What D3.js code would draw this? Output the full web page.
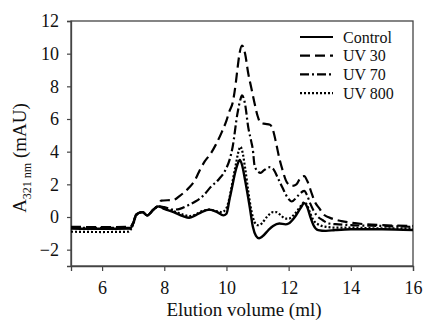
<!DOCTYPE html>
<html><head><meta charset="utf-8">
<script src="https://cdn.jsdelivr.net/npm/d3@7"></script>
<style>body{margin:0;background:#fff}svg{display:block}</style>
</head><body>
<svg id="c" width="424" height="322"></svg>
<script>
const xTicks = [6, 8, 10, 12, 14, 16];
const yTicks = [-2, 0, 2, 4, 6, 8, 10, 12];
const seriesNames = ["Control", "UV 30", "UV 70", "UV 800"];

const control = [[5,-0.7],[6.0,-0.72],[6.9,-0.7],[7.0,-0.4],[7.1,0.15],[7.3,0.3],[7.45,0.1],[7.65,0.45],[7.8,0.65],[8.0,0.5],[8.3,0.3],[8.6,0.05],[8.8,-0.05],[9.0,0.1],[9.2,0.3],[9.45,0.45],[9.7,0.3],[9.9,0.1],[10.0,0.2],[10.1,1.1],[10.2,2.0],[10.27,2.65],[10.35,3.2],[10.43,3.5],[10.5,3.2],[10.6,2.25],[10.75,0.6],[10.85,-0.6],[10.95,-1.15],[11.05,-1.3],[11.15,-1.2],[11.35,-0.8],[11.5,-0.55],[11.7,-0.4],[11.9,-0.45],[12.0,-0.4],[12.2,0.0],[12.4,0.6],[12.5,0.85],[12.6,0.6],[12.7,0.0],[12.8,-0.5],[12.95,-0.8],[13.2,-0.85],[13.5,-0.8],[14,-0.75],[15,-0.75],[16,-0.8]];
const uv30 = [[5,-0.6],[6.0,-0.62],[6.9,-0.6],[7.0,-0.35],[7.1,0.15],[7.3,0.3],[7.45,0.1],[7.65,0.45],[7.8,0.7],[7.9,1.0],[8.3,1.05],[8.5,1.3],[8.8,1.8],[9.0,2.3],[9.15,2.9],[9.3,3.4],[9.5,3.9],[9.65,4.4],[9.85,5.2],[10.0,5.9],[10.1,6.5],[10.2,7.0],[10.3,8.2],[10.35,9.0],[10.42,10.0],[10.5,10.5],[10.6,10.0],[10.7,8.8],[10.8,7.9],[10.9,7.0],[11.0,6.2],[11.1,5.75],[11.25,5.7],[11.4,5.65],[11.5,5.3],[11.6,4.5],[11.7,3.6],[11.8,2.9],[11.95,2.1],[12.1,1.9],[12.25,2.0],[12.4,2.45],[12.5,2.5],[12.6,2.2],[12.75,1.4],[12.85,0.9],[13.0,0.5],[13.1,0.2],[13.4,-0.1],[13.7,-0.25],[14,-0.35],[14.5,-0.45],[15,-0.5],[16,-0.55]];
const uv70 = [[5,-0.65],[6.0,-0.67],[6.9,-0.65],[7.0,-0.38],[7.1,0.15],[7.3,0.3],[7.45,0.1],[7.65,0.45],[7.8,0.65],[8.0,0.6],[8.3,0.45],[8.5,0.5],[8.75,0.7],[9.0,0.95],[9.25,1.3],[9.5,1.85],[9.75,2.3],[10.0,3.0],[10.1,3.5],[10.2,4.3],[10.35,6.3],[10.45,7.2],[10.5,7.45],[10.6,6.9],[10.7,5.5],[10.8,4.6],[10.85,4.1],[10.9,3.2],[11.0,2.8],[11.1,2.7],[11.2,2.85],[11.4,3.05],[11.5,2.95],[11.65,2.4],[11.8,1.8],[12.0,1.1],[12.1,0.95],[12.3,1.3],[12.5,1.6],[12.6,1.3],[12.7,0.8],[12.8,0.4],[12.9,0.1],[13.1,-0.2],[13.3,-0.4],[13.6,-0.45],[14,-0.5],[15,-0.55],[16,-0.6]];
const uv800 = [[5,-0.9],[6.0,-0.92],[6.85,-0.9],[7.0,-0.45],[7.1,0.1],[7.3,0.3],[7.45,0.1],[7.65,0.45],[7.8,0.65],[8.0,0.5],[8.3,0.35],[8.6,0.15],[8.8,0.05],[9.0,0.15],[9.2,0.35],[9.45,0.45],[9.7,0.35],[9.85,0.3],[10.0,0.55],[10.1,1.2],[10.2,2.2],[10.3,3.2],[10.4,4.1],[10.45,4.3],[10.5,4.1],[10.6,3.0],[10.7,1.6],[10.8,0.4],[10.9,-0.3],[11.0,-0.5],[11.1,-0.45],[11.3,0.0],[11.5,0.3],[11.6,0.3],[11.75,0.1],[11.9,-0.1],[12.0,-0.1],[12.2,0.2],[12.4,0.7],[12.5,0.9],[12.6,0.7],[12.7,0.2],[12.8,-0.2],[13.0,-0.5],[13.2,-0.6],[13.5,-0.65],[14,-0.65],[15,-0.7],[16,-0.7]];

const seriesData = [control, uv30, uv70, uv800];
const dashes = [null, "10,5", "9,3,2,3", "2,2"];
const FONT = "Liberation Serif";

const svg = d3.select("#c");
const L = 71, T = 21, R = 413, B = 266;
const x = d3.scaleLinear().domain([5, 16]).range([L, R]);
const y = d3.scaleLinear().domain([-3, 12]).range([B, T]);

svg.append("rect").attr("x", L).attr("y", T).attr("width", R - L).attr("height", B - T)
  .attr("fill", "none").attr("stroke", "#444").attr("stroke-width", 1.3);

const xa = svg.append("g").attr("transform", `translate(0,${B})`)
  .call(d3.axisBottom(x).tickValues(xTicks).tickSize(5).tickPadding(10).tickFormat(d3.format("d")));
const ya = svg.append("g").attr("transform", `translate(${L},0)`)
  .call(d3.axisLeft(y).tickValues(yTicks).tickSize(4).tickPadding(8).tickFormat(d3.format("d")));
[xa, ya].forEach(g => {
  g.attr("font-family", FONT).attr("font-size", 18);
  g.select(".domain").attr("stroke", "#444").attr("stroke-width", 1.3);
  g.selectAll(".tick line").attr("stroke", "#444").attr("stroke-width", 1.2);
  g.selectAll("text").attr("fill", "#111").attr("font-family", FONT)
    .style("font-family", FONT, "important").style("font-size", "18px");
});

const line = d3.line().x(d => x(d[0])).y(d => y(d[1])).curve(d3.curveMonotoneX);
svg.append("defs").append("clipPath").attr("id", "clip")
  .append("rect").attr("x", L).attr("y", T).attr("width", R - L).attr("height", B - T);
const plot = svg.append("g").attr("clip-path", "url(#clip)");
seriesData.forEach((s, i) => {
  plot.append("path").datum(s).attr("d", line).attr("fill", "none")
    .attr("stroke", "#000").attr("stroke-width", i === 0 ? 2.4 : 2.2)
    .attr("stroke-dasharray", dashes[i]);
});

const lg = svg.append("g");
seriesNames.forEach((n, i) => {
  const yy = 37 + i * 18.7;
  lg.append("line").attr("x1", 300).attr("x2", 333).attr("y1", yy).attr("y2", yy)
    .attr("stroke", "#000").attr("stroke-width", 2.2).attr("stroke-dasharray", dashes[i]);
  lg.append("text").attr("x", 343).attr("y", yy).attr("dy", "0.35em")
    .attr("font-family", FONT).style("font-family", FONT, "important")
    .style("font-size", "16px").attr("fill", "#111").text(n);
});

svg.append("text").attr("x", (L + R) / 2 + 2).attr("y", 316).attr("text-anchor", "middle")
  .attr("font-family", FONT).style("font-family", FONT, "important")
  .style("font-size", "19px").attr("fill", "#111").text("Elution volume (ml)");
const yt = svg.append("text").attr("transform", "translate(26,158) rotate(-90)")
  .attr("text-anchor", "middle").attr("font-family", FONT).style("font-family", FONT, "important")
  .style("font-size", "19px").attr("fill", "#111");
yt.append("tspan").text("A");
yt.append("tspan").style("font-size", "12px").attr("dy", 5).text("321 nm");
yt.append("tspan").attr("dy", -5).text(" (mAU)");
</script>
</body></html>
